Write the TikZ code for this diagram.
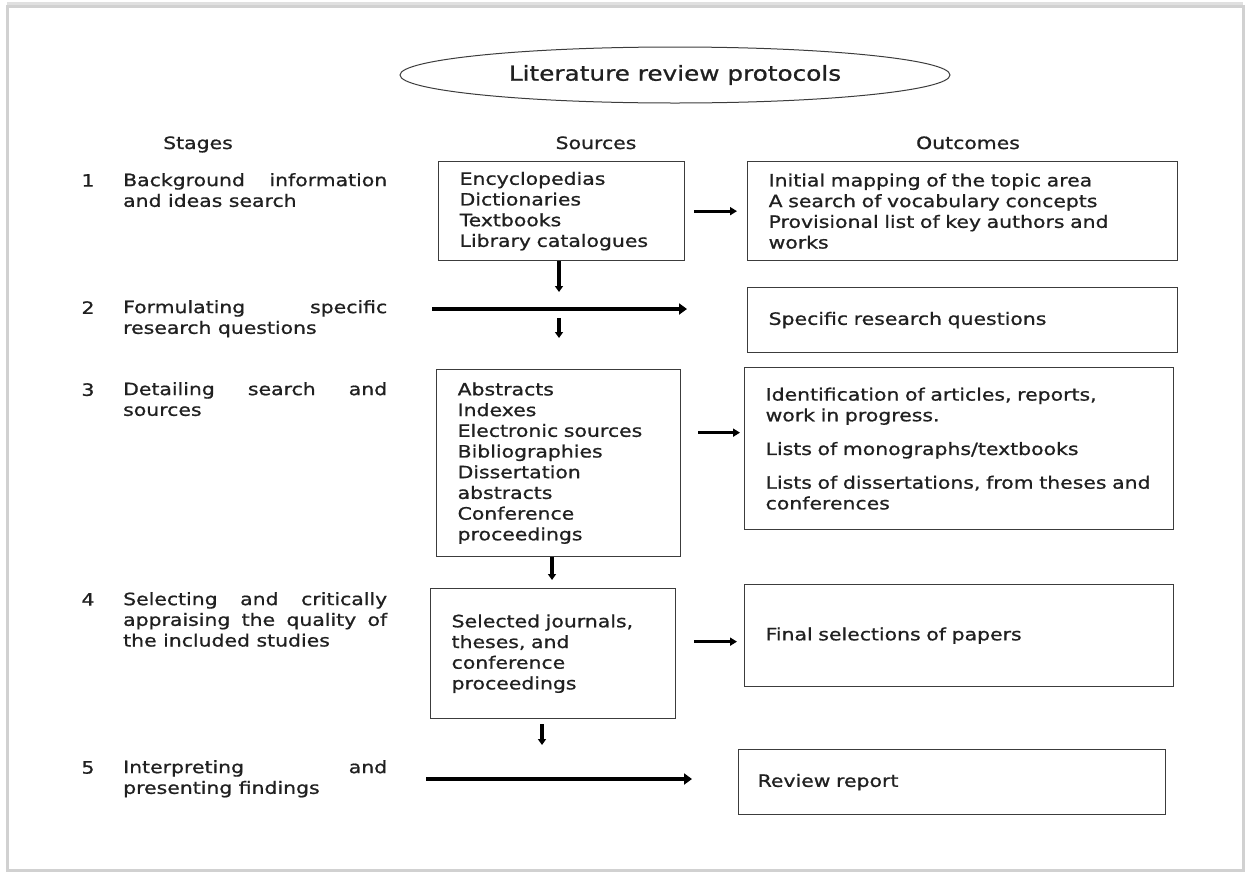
\documentclass[tikz,border=0pt]{standalone}
\usepackage{fontspec}
\usetikzlibrary{arrows.meta,positioning,shapes.geometric}
\newfontfamily\diagfont[FakeStretch=1.2,FakeBold=0.9]{DejaVu Sans}
\definecolor{ink}{RGB}{32,32,32}
\definecolor{rim}{RGB}{60,60,60}

\begin{document}
\begin{tikzpicture}[x=1pt, y=-1pt,
  every node/.style={font=\diagfont\fontsize{17}{20.7}\selectfont, text=ink},
  box/.style={draw=rim, line width=1.3pt, anchor=north west, align=left, inner xsep=21pt, inner ysep=0pt},
  stage/.style={anchor=north west, text width=264pt, align=justify, inner sep=0pt},
  num/.style={anchor=north, inner sep=0pt},
  head/.style={anchor=base},
  flow/.style={-{Triangle[length=7pt,width=8pt]}, line width=2.8pt},
  longflow/.style={-{Triangle[length=8pt,width=11pt]}, line width=4.5pt},
  drop/.style={-{Triangle[length=6pt,width=8pt]}, line width=4pt}]

\useasboundingbox (0,0) rectangle (1247,876);
\draw[black!18, line width=3pt] (7,6) rectangle (1243,870);
\draw[black!12, line width=3pt] (7,3) -- (1243,3);

\node[ellipse, draw=rim, line width=1pt, minimum width=550pt, minimum height=56pt, inner sep=0pt,
  font=\diagfont\fontsize{20.6}{24}\selectfont] (title) at (675,75) {Literature review protocols};

% column heads
\node[head] (hstage) at (198,149) {Stages};
\node[head] (hsrc) at (596,149) {Sources};
\node[head] (hout) at (968,149) {Outcomes};

% stages
\node[num] (n1) at (88,174) {1};
\node[num] (n2) at (88,301) {2};
\node[num] (n3) at (88,383) {3};
\node[num] (n4) at (88,593) {4};
\node[num] (n5) at (88,761) {5};
\node[stage] (st1) at (123,173) {Background information\linebreak and ideas search};
\node[stage] (st2) at (123,300) {Formulating specific\linebreak research questions};
\node[stage] (st3) at (123,382) {Detailing search and\linebreak sources};
\node[stage] (st4) at (123,592) {Selecting and critically\linebreak appraising the quality of\linebreak the included studies};
\node[stage] (st5) at (123,760) {Interpreting and\linebreak presenting findings};

% sources
\node[box, minimum width=246pt, minimum height=99pt, text width=204pt] (src1) at (438,161)
  {Encyclopedias\\Dictionaries\\Textbooks\\Library catalogues};
\node[box, minimum width=244pt, minimum height=187pt, text width=202pt] (src3) at (436,369)
  {Abstracts\\Indexes\\Electronic sources\\Bibliographies\\Dissertation\\abstracts\\Conference\\proceedings};
\node[box, minimum width=245pt, minimum height=130pt, text width=203pt] (src4) at (430,588)
  {Selected journals,\\theses, and\\conference\\proceedings};

% outcomes
\node[box, minimum width=430pt, minimum height=99pt, text width=388pt] (out1) at (747,161)
  {Initial mapping of the topic area\\A search of vocabulary concepts\\Provisional list of key authors and\\works};
\node[box, minimum width=430pt, minimum height=65pt, text width=388pt] (out2) at (747,287)
  {Specific research questions};
\node[box, minimum width=429pt, minimum height=162pt, text width=387pt] (out3) at (744,367)
  {Identification of articles, reports,\\work in progress.\\[13pt]Lists of monographs/textbooks\\[13pt]Lists of dissertations, from theses and\\conferences};
\node[box, minimum width=429pt, minimum height=102pt, text width=387pt] (out4) at (744,584)
  {Final selections of papers};
\node[box, minimum width=427pt, minimum height=65pt, text width=389pt, inner xsep=19pt] (out5) at (738,749)
  {Review report};

% connectors
\coordinate (t3) at ([yshift=16pt]out3.west);
\coordinate (t4) at ([yshift=-6pt]out4.west);
\draw[flow, shorten <=9pt, shorten >=10pt] (src1) -- (out1);
\draw[flow, shorten <=17pt, shorten >=4pt] (src3.east |- t3) -- (t3);
\draw[flow, shorten <=18pt, shorten >=7pt] (src4.east |- t4) -- (t4);

\coordinate (d1) at (559,292);
\coordinate (d2a) at (559,318);
\coordinate (d2b) at (559,338);
\coordinate (d3) at (552,580);
\coordinate (d4) at (542,745);
\draw[drop] (src1.south -| d1) -- (d1);
\draw[drop] (d2a) -- (d2b);
\draw[drop] (src3.south -| d3) -- (d3);
\draw[drop, shorten <=5pt] (src4.south -| d4) -- (d4);

\coordinate (r2a) at (432,309);
\coordinate (r2b) at (687,309);
\coordinate (r5a) at (426,779);
\coordinate (r5b) at (692,779);
\draw[longflow] (r2a) -- (r2b);
\draw[longflow] (r5a) -- (r5b);

\end{tikzpicture}
\end{document}
